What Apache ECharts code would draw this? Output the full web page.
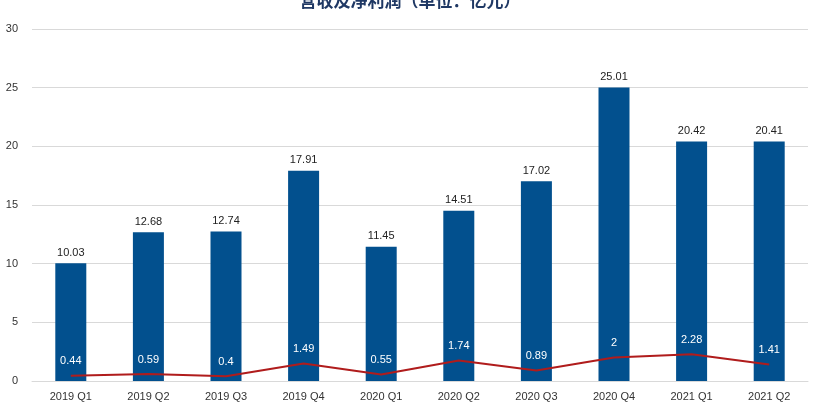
<!DOCTYPE html><html><head><meta charset="utf-8"><script src="https://cdn.jsdelivr.net/npm/echarts@6/dist/echarts.min.js"></script></head><body style="margin:0"><div id="c" style="width:820px;height:415px"></div><script>
const categories=["2019 Q1","2019 Q2","2019 Q3","2019 Q4","2020 Q1","2020 Q2","2020 Q3","2020 Q4","2021 Q1","2021 Q2"];
const barValues=[10.03,12.68,12.74,17.91,11.45,14.51,17.02,25.01,20.42,20.41];
const lineValues=[0.44,0.59,0.4,1.49,0.55,1.74,0.89,2,2.28,1.41];
const chart=echarts.init(document.getElementById('c'));
chart.setOption({
 title:{text:'营收及净利润（单位：亿元）',left:'center',top:-13,textStyle:{fontSize:17,fontWeight:'bold',color:'#1f3864',fontFamily:'Noto Sans CJK SC'}},
 grid:{left:32,right:12,top:29,bottom:34},
 xAxis:{type:'category',data:categories,axisTick:{show:false},axisLine:{lineStyle:{color:'#d9d9d9'}},axisLabel:{color:'#333',fontSize:11,margin:10}},
 yAxis:{type:'value',min:0,max:30,interval:5,axisLabel:{color:'#333',fontSize:11,margin:14},splitLine:{lineStyle:{color:'#d9d9d9'}}},
 series:[
  {type:'bar',data:barValues,barWidth:31,itemStyle:{color:'#02508e'},label:{show:true,position:'top',color:'#222',fontSize:11}},
  {type:'line',z:10,zlevel:1,data:lineValues,symbol:'circle',symbolSize:0.1,showSymbol:true,lineStyle:{color:'#b01c1c',width:2},label:{show:true,position:'top',distance:9,color:'#fff',fontSize:11}}
 ]
});
</script></body></html>
